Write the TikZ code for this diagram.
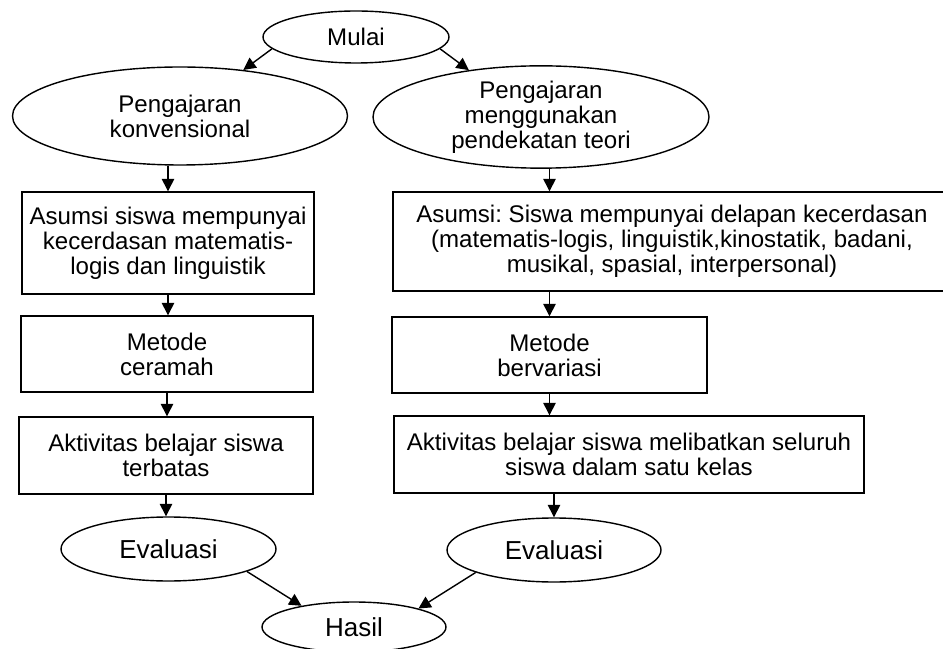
\documentclass[tikz,border=0pt]{standalone}
\usepackage{fontspec}
\setmainfont{Liberation Sans}
\usepackage{tikz}
\usetikzlibrary{arrows.meta,positioning,shapes.geometric}
\frenchspacing
\tikzset{
  flow box/.style={draw=black,line width=0.8pt,rectangle,align=center,inner sep=0pt},
  flow ellipse/.style={draw=black,line width=0.8pt,ellipse,align=center,inner sep=0pt},
  flow arrow/.style={-{Triangle[length=7pt,width=7pt]},draw=black,line width=0.8pt}
}

\begin{document}
\begin{tikzpicture}[font=\fontsize{13.7}{14.2}\selectfont]
  \useasboundingbox (0,0) rectangle (18.86,12.96);
  \node[flow ellipse,minimum width=3.72cm,minimum height=1.04cm] (mulai) at (7.12,12.22) {Mulai};
  \node[flow ellipse,minimum width=6.70cm,minimum height=1.96cm] (konv) at (3.60,10.64) {Pengajaran\\konvensional};
  \node[flow ellipse,minimum width=6.72cm,minimum height=2.00cm] (teori) at (10.82,10.62) {Pengajaran\\menggunakan\\pendekatan teori};

  \node[flow box,minimum width=5.84cm,minimum height=2.04cm] (asumsiL) at (3.36,8.10) {Asumsi siswa mempunyai\\kecerdasan matematis-\\logis dan linguistik};
  \node[flow box,minimum width=5.84cm,minimum height=1.52cm] (metodeL) at (3.34,5.88) {Metode\\ceramah};
  \node[flow box,minimum width=5.88cm,minimum height=1.54cm] (aktivL) at (3.32,3.85) {Aktivitas belajar siswa\\terbatas};
  \node[flow ellipse,minimum width=4.30cm,minimum height=1.28cm,font=\fontsize{14.8}{15.4}\selectfont] (evalL) at (3.37,1.98) {Evaluasi};

  \node[flow box,minimum width=11.16cm,minimum height=1.98cm] (asumsiR) at (13.44,8.13) {Asumsi: Siswa mempunyai delapan kecerdasan\\(matematis-logis, linguistik,kinostatik, badani,\\musikal, spasial, interpersonal)};
  \node[flow box,minimum width=6.30cm,minimum height=1.52cm] (metodeR) at (10.99,5.86) {Metode\\bervariasi};
  \node[flow box,minimum width=9.40cm,minimum height=1.54cm] (aktivR) at (12.58,3.87) {Aktivitas belajar siswa melibatkan seluruh\\siswa dalam satu kelas};
  \node[flow ellipse,minimum width=4.28cm,minimum height=1.28cm,font=\fontsize{14.8}{15.4}\selectfont] (evalR) at (11.08,1.96) {Evaluasi};

  \node[flow ellipse,minimum width=3.68cm,minimum height=1.00cm,font=\fontsize{14.8}{15.4}\selectfont] (hasil) at (7.08,0.42) {Hasil};

  \draw[flow arrow] (mulai.188) -- (konv.36);
  \draw[flow arrow] (mulai.352) -- (teori.147);

  \draw[flow arrow] (asumsiL.north |- konv.south) -- (asumsiL.north);
  \draw[flow arrow] (asumsiL.south) -- (asumsiL.south |- metodeL.north);
  \draw[flow arrow] (metodeL.south) -- (metodeL.south |- aktivL.north);
  \draw[flow arrow] (aktivL.south) -- (aktivL.south |- evalL.north);

  \draw[flow arrow] (metodeR.north |- teori.south) -- (metodeR.north |- asumsiR.north);
  \draw[flow arrow] (metodeR.north |- asumsiR.south) -- (metodeR.north);
  \draw[flow arrow] (metodeR.south) -- (metodeR.south |- aktivR.north);
  \draw[flow arrow] (evalR.north |- aktivR.south) -- (evalR.north);

  \draw[flow arrow] (evalL.344) -- (hasil.158);
  \draw[flow arrow] (evalR.196) -- (hasil.16);
\end{tikzpicture}
\end{document}
